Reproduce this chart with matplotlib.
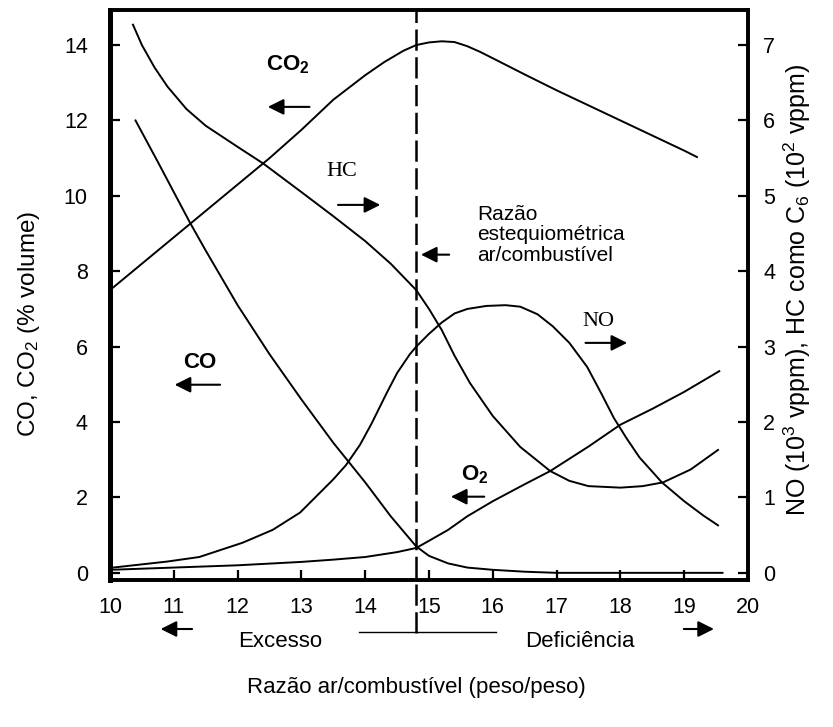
import matplotlib
matplotlib.use("Agg")
from matplotlib import pyplot as plt

plt.rcParams['font.family'] = ['Liberation Sans', 'DejaVu Sans']
plt.rcParams['mathtext.default'] = 'regular'

# curves (x = air/fuel ratio)
co2_x = [10.0, 10.5, 11.0, 11.5, 12.0, 12.5, 13.0, 13.5, 14.0, 14.3, 14.6, 14.8, 15.0,
         15.2, 15.4, 15.6, 15.8, 16.0, 16.5, 17.0, 17.5, 18.0, 18.5, 19.0, 19.2]
co2_y = [7.5, 8.2, 8.9, 9.6, 10.3, 11.0, 11.75, 12.55, 13.2, 13.55, 13.85, 14.0, 14.07,
         14.1, 14.08, 13.97, 13.82, 13.65, 13.22, 12.8, 12.4, 12.0, 11.6, 11.2, 11.03]

co_x = [10.4, 10.75, 11.0, 11.25, 11.5, 12.0, 12.5, 13.0, 13.5, 14.0, 14.4, 14.8, 15.0,
        15.3, 15.6, 16.0, 16.5, 17.0, 18.0, 19.0, 19.6]
co_y = [12.0, 10.9, 10.1, 9.3, 8.55, 7.1, 5.8, 4.6, 3.45, 2.4, 1.5, 0.7, 0.45,
        0.25, 0.14, 0.08, 0.03, 0.0, 0.0, 0.0, 0.0]

o2_x = [10.0, 11.0, 12.0, 13.0, 13.5, 14.0, 14.5, 14.8, 15.0, 15.3, 15.6, 16.0, 16.5,
        16.9, 17.5, 18.0, 18.5, 19.0, 19.55]
o2_y = [0.08, 0.14, 0.2, 0.29, 0.35, 0.42, 0.55, 0.66, 0.85, 1.14, 1.5, 1.9, 2.35,
        2.7, 3.35, 3.93, 4.35, 4.8, 5.35]

# right axis: HC in 10^2 vppm, NO in 10^3 vppm
hc_x = [10.36, 10.5, 10.7, 10.9, 11.2, 11.5, 12.0, 12.4, 13.0, 13.5, 14.0, 14.4, 14.8,
        15.0, 15.2, 15.4, 15.64, 16.0, 16.43, 16.9, 17.2, 17.5, 18.0, 18.35, 18.67, 19.1,
        19.53]
hc_y = [7.27, 7.0, 6.7, 6.45, 6.15, 5.93, 5.65, 5.43, 5.05, 4.73, 4.4, 4.1, 3.75,
        3.5, 3.22, 2.88, 2.52, 2.08, 1.67, 1.35, 1.22, 1.15, 1.13, 1.15, 1.2, 1.37,
        1.63]

no_x = [10.05, 10.9, 11.4, 12.08, 12.55, 12.98, 13.5, 13.7, 13.92, 14.1, 14.34, 14.5,
        14.7, 14.8, 15.0, 15.2, 15.4, 15.6, 15.9, 16.2, 16.43, 16.7, 16.94, 17.2, 17.48,
        17.7, 17.9, 18.1, 18.3, 18.65, 19.0, 19.3, 19.53]
no_y = [0.07, 0.15, 0.21, 0.4, 0.57, 0.8, 1.24, 1.43, 1.7, 1.98, 2.39, 2.65,
        2.9, 3.0, 3.17, 3.32, 3.44, 3.5, 3.54, 3.55, 3.53, 3.43, 3.27, 3.05, 2.73,
        2.38, 2.05, 1.78, 1.53, 1.2, 0.95, 0.76, 0.63]

stoich = 14.8
x_ticks = list(range(10, 21))
left_ticks = [0, 2, 4, 6, 8, 10, 12, 14]
right_ticks = list(range(0, 8))

fig = plt.figure(figsize=(8.33, 7.27), dpi=100)
ax = fig.add_axes([110 / 833, 1 - 580 / 727, 638 / 833, 570 / 727])
ax2 = ax.twinx()

ax.set_xlim(10, 20)
ax.set_ylim(-0.19, 14.93)
ax2.set_ylim(-0.095, 7.465)

for a in (ax, ax2):
    for s in a.spines.values():
        s.set_linewidth(2.6)
ax.spines['left'].set_linewidth(3.6)

ax.set_xticks(x_ticks)
ax.set_yticks(left_ticks)
ax2.set_yticks(right_ticks)
ax.tick_params(axis='both', direction='in', length=7, width=1.6, labelsize=15.5)
ax.tick_params(axis='y', pad=16)
ax.tick_params(axis='x', pad=12)
ax2.tick_params(axis='y', direction='in', length=7, width=1.6, labelsize=15.5, pad=11)

ax.plot(co2_x, co2_y, color='black', lw=1.4)
ax.plot(co_x, co_y, color='black', lw=1.4)
ax.plot(o2_x, o2_y, color='black', lw=1.4)
ax2.plot(hc_x, hc_y, color='black', lw=1.4)
ax2.plot(no_x, no_y, color='black', lw=1.4)

# stoichiometric line, continued below the axis
ax.plot([stoich, stoich], [-1.6, 14.93], color='black', lw=1.8,
        linestyle=(0, (8.5, 2.6)), clip_on=False)

arrow = dict(arrowstyle='-|>', color='black', lw=1.5, mutation_scale=24)

def note(text, xy, tail, head, **kw):
    ax.text(xy[0], xy[1], text, ha='center', va='center', **kw)
    ax.annotate('', xy=head, xytext=tail, arrowprops=arrow)

note('CO$_2$', (12.79, 13.47), (13.17, 12.36), (12.43, 12.36), fontsize=16, fontweight='bold')
note('HC', (13.64, 10.64), (13.53, 9.76), (14.28, 9.76), fontsize=16, family='Liberation Serif')
note('CO', (11.41, 5.57), (11.77, 4.99), (10.97, 4.99), fontsize=16, fontweight='bold')
note('NO', (17.65, 6.66), (17.41, 6.1), (18.15, 6.1), fontsize=16, family='Liberation Serif')
note('O$_2$', (15.72, 2.6), (15.91, 2.02), (15.3, 2.02), fontsize=16, fontweight='bold')

ax.text(15.75, 8.97, 'Razão\nestequiométrica\nar/combustível', ha='left', va='center',
        fontsize=15, linespacing=1.1)
ax.annotate('', xy=(14.83, 8.44), xytext=(15.36, 8.44), arrowprops=arrow)

# below the axis: excess / deficiency
ax.annotate('', xy=(10.75, -1.49), xytext=(11.33, -1.49), arrowprops=arrow,
            annotation_clip=False)
ax.annotate('', xy=(19.51, -1.49), xytext=(18.95, -1.49), arrowprops=arrow,
            annotation_clip=False)
ax.text(12.66, -1.82, 'Excesso', ha='center', va='center', fontsize=16, clip_on=False)
ax.text(17.37, -1.82, 'Deficiência', ha='center', va='center', fontsize=16, clip_on=False)
ax.plot([13.9, 16.05], [-1.57, -1.57], color='black', lw=1.0, clip_on=False)

fig.text(0.5, 1 - 688 / 727, 'Razão ar/combustível (peso/peso)', ha='center', va='center',
         fontsize=16)
fig.text(29 / 833, 1 - 324 / 727, 'CO, CO$_2$ (% volume)', rotation=90, ha='center',
         va='center', fontsize=17.5)
fig.text(797 / 833, 1 - 290 / 727, 'NO (10$^3$ vppm), HC como C$_6$ (10$^2$ vppm)',
         rotation=90, ha='center', va='center', fontsize=18)

fig.savefig('out.png', dpi=100)
